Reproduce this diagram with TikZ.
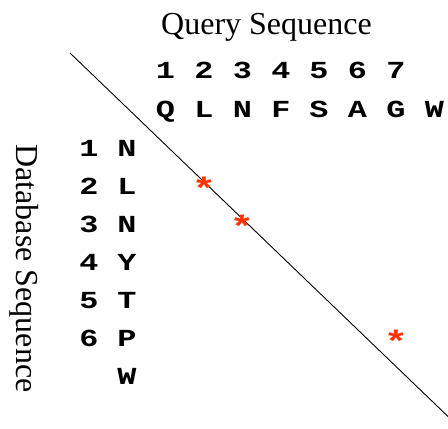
\documentclass[tikz,border=0pt]{standalone}
\usepackage{fontspec}
\setmainfont{Liberation Serif}
\newfontfamily\seqfont[FakeStretch=1.3]{Liberation Mono}
\definecolor{starred}{HTML}{FF3300}
\begin{document}
\begin{tikzpicture}[x=1pt,y=1pt,
  seq/.style={inner sep=0pt,font=\seqfont\bfseries\fontsize{24.5}{24.5}\selectfont,anchor=base},
  title/.style={inner sep=0pt,font=\fontsize{32}{32}\selectfont,anchor=base},
  star/.style={inner sep=0pt,text=starred,font=\seqfont\bfseries\fontsize{31}{31}\selectfont}]
\useasboundingbox (0,0) rectangle (448,429);
\node[title] (qt) at (266.5,394) {Query Sequence};
\node[title,rotate=-90] (dt) at (16.5,160.5) {Database Sequence};
% query numbers
\node[seq] (qn1) at (165.5,350) {1};
\node[seq] (qn2) at (204,350) {2};
\node[seq] (qn3) at (242.5,350) {3};
\node[seq] (qn4) at (281,350) {4};
\node[seq] (qn5) at (319,350) {5};
\node[seq] (qn6) at (357.5,350) {6};
\node[seq] (qn7) at (396,350) {7};
% query letters
\node[seq] (ql1) at (165.5,311.5) {Q};
\node[seq] (ql2) at (204,311.5) {L};
\node[seq] (ql3) at (242.5,311.5) {N};
\node[seq] (ql4) at (281,311.5) {F};
\node[seq] (ql5) at (319,311.5) {S};
\node[seq] (ql6) at (357.5,311.5) {A};
\node[seq] (ql7) at (396,311.5) {G};
\node[seq] (ql8) at (434.5,311.5) {W};
% database numbers
\node[seq] (dn1) at (89,272.5) {1};
\node[seq] (dn2) at (89,234.5) {2};
\node[seq] (dn3) at (89,196.5) {3};
\node[seq] (dn4) at (89,158.5) {4};
\node[seq] (dn5) at (89,120.5) {5};
\node[seq] (dn6) at (89,82.5) {6};
% database letters
\node[seq] (dl1) at (127,272.5) {N};
\node[seq] (dl2) at (127,234.5) {L};
\node[seq] (dl3) at (127,196.5) {N};
\node[seq] (dl4) at (127,158.5) {Y};
\node[seq] (dl5) at (127,120.5) {T};
\node[seq] (dl6) at (127,82.5) {P};
\node[seq] (dl7) at (127,44.5) {W};
% diagonal
\coordinate (d0) at (70,376);
\coordinate (d1) at (448,12.5);
\draw[line width=0.9pt] (d0) -- (d1);
% stars
\node[star] (s1) at (204,241) {*};
\node[star] (s2) at (242,203) {*};
\node[star] (s3) at (396,88) {*};
\end{tikzpicture}
\end{document}
